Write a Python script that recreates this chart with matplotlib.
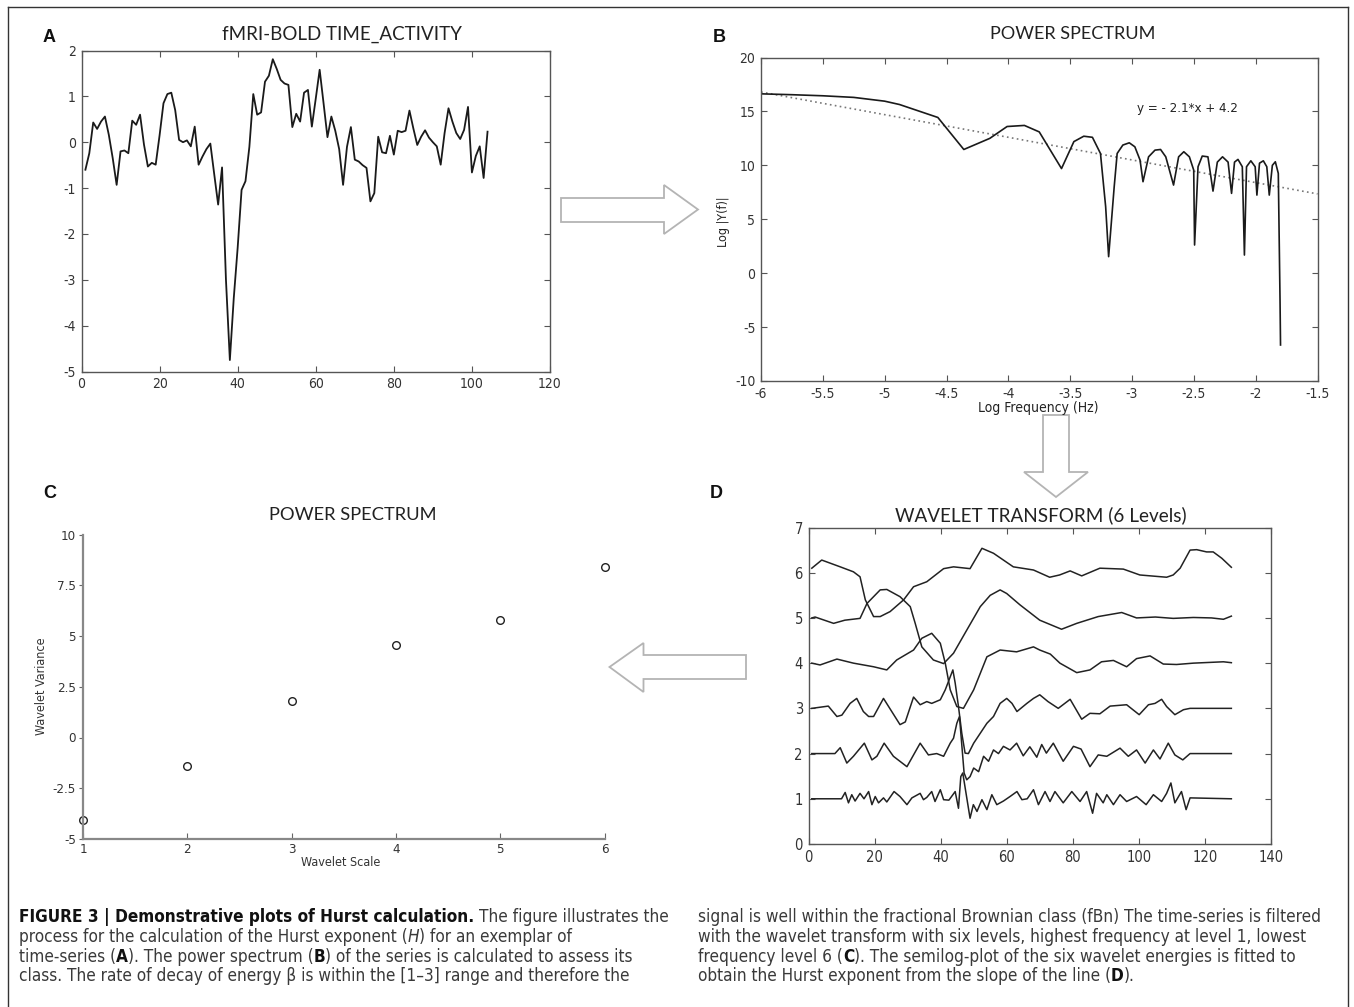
import numpy as np
import matplotlib
matplotlib.use('Agg')
import matplotlib.pyplot as plt
from matplotlib import font_manager as fm
from matplotlib.patches import Polygon
from matplotlib.lines import Line2D

plt.rcParams['axes.unicode_minus'] = False

W, H = 1354, 1007

# ---------------- data ----------------
# Panel A: fMRI-BOLD time activity
a_time = list(range(1, 105))
a_bold = [-0.60, -0.24, 0.43, 0.29, 0.45, 0.56, 0.16, -0.35, -0.93, -0.20,
          -0.18, -0.24, 0.47, 0.38, 0.60, -0.05, -0.53, -0.45, -0.49, 0.15,
          0.85, 1.05, 1.08, 0.70, 0.05, 0.00, 0.04, -0.09, 0.34, -0.49,
          -0.31, -0.15, -0.03, -0.70, -1.36, -0.55, -3.00, -4.75, -3.40, -2.30,
          -1.04, -0.85, -0.10, 1.05, 0.60, 0.65, 1.32, 1.45, 1.81, 1.60,
          1.36, 1.28, 1.25, 0.33, 0.62, 0.45, 1.08, 1.14, 0.34, 0.95,
          1.58, 0.85, 0.11, 0.56, 0.25, -0.15, -0.93, -0.10, 0.33, -0.38,
          -0.42, -0.50, -0.56, -1.29, -1.11, 0.12, -0.22, -0.24, 0.14, -0.27,
          0.25, 0.22, 0.25, 0.69, 0.30, -0.06, 0.12, 0.26, 0.10, 0.00,
          -0.09, -0.49, 0.20, 0.74, 0.45, 0.20, 0.07, 0.27, 0.77, -0.66,
          -0.30, -0.09, -0.78, 0.23]
a_xticks = [0, 20, 40, 60, 80, 100, 120]
a_yticks = [-5, -4, -3, -2, -1, 0, 1, 2]

# Panel B: power spectrum
b_logf = [-6.0, -5.75, -5.5, -5.25, -5.0, -4.88, -4.57, -4.36, -4.15, -4.01,
          -3.87, -3.75, -3.57, -3.47, -3.39, -3.32, -3.255, -3.213, -3.189, -3.144,
          -3.120, -3.074, -3.022, -2.977, -2.935, -2.911, -2.866, -2.814, -2.769, -2.727,
          -2.664, -2.623, -2.581, -2.536, -2.501, -2.494, -2.466, -2.432, -2.386, -2.345,
          -2.310, -2.268, -2.223, -2.195, -2.171, -2.143, -2.108, -2.091, -2.074, -2.039,
          -2.004, -1.990, -1.969, -1.938, -1.910, -1.890, -1.865, -1.841, -1.817, -1.803,
          -1.799]
b_logpow = [16.63, 16.55, 16.45, 16.3, 15.95, 15.64, 14.44, 11.47, 12.5, 13.6,
            13.7, 13.1, 9.7, 12.2, 12.7, 12.6, 11.1, 6.16, 1.53, 8.01,
            11.1, 11.88, 12.09, 11.72, 10.49, 8.48, 10.79, 11.41, 11.47, 10.79,
            8.17, 10.79, 11.26, 10.79, 9.56, 2.61, 9.87, 10.86, 10.79, 7.61,
            10.3, 10.79, 10.3, 7.4, 10.3, 10.55, 9.87, 1.68, 9.87, 10.42,
            9.87, 7.24, 10.2, 10.42, 9.87, 7.24, 10.0, 10.33, 9.25, -2.49,
            -6.66]
fit_slope = -2.1
fit_intercept = 4.2
fit_x = [-6.0, -1.5]
b_xticks = [-6, -5.5, -5, -4.5, -4, -3.5, -3, -2.5, -2, -1.5]
b_xticklabels = ['-6', '-5.5', '-5', '-4.5', '-4', '-3.5', '-3', '-2.5', '-2', '-1.5']
b_yticks = [-10, -5, 0, 5, 10, 15, 20]

# Panel C: wavelet variance per scale
c_scale = [1, 2, 3, 4, 5, 6]
c_variance = [-4.07, -1.39, 1.79, 4.55, 5.81, 8.41]
c_yticks = [-5, -2.5, 0, 2.5, 5, 7.5, 10]
c_yticklabels = ['-5', '-2.5', '0', '2.5', '5', '7.5', '10']

# Panel D: wavelet transform, 6 levels (offset by level)
d1_x = [1, 10, 11.1, 12.1, 13.1, 14.1, 15.6, 16.8, 18.2, 19.2, 20.2, 21.2, 22.7, 23.7, 25.9, 27.7, 29.8, 31.3, 33.8, 34.8,
        35.8, 37.3, 38.3, 39.9, 40.9, 42.5, 44.4, 45.4, 46.1, 46.7, 48.9, 49.9, 51.0, 52.5, 54.0, 55.5, 57.0, 59.0, 61.0, 63.1,
        64.6, 66.2, 68.1, 69.6, 71.6, 73.1, 74.6, 77.1, 79.7, 82.2, 84.2, 86.0, 87.2, 89.2, 90.3, 92.3, 94.3, 96.3, 99.3, 102.2,
        104.4, 106.9, 108.4, 109.7, 110.9, 112.9, 114.3, 115.5, 128]
d1_y = [1.0, 1.0, 1.14, 0.91, 1.09, 0.95, 1.12, 1.0, 1.16, 0.87, 1.05, 0.91, 1.02, 0.93, 1.16, 1.05, 0.87, 1.02, 1.12, 0.98,
        1.03, 1.16, 0.94, 1.20, 0.98, 0.97, 1.16, 0.79, 1.49, 1.57, 0.57, 0.87, 0.72, 0.98, 0.76, 1.09, 0.87, 0.95, 1.05, 1.16,
        0.98, 1.0, 1.2, 0.87, 1.16, 0.94, 1.16, 0.91, 1.16, 0.94, 1.16, 0.68, 1.12, 0.91, 1.09, 0.87, 1.09, 0.94, 1.05, 0.87,
        1.09, 0.94, 1.12, 1.35, 0.91, 1.16, 0.76, 1.02, 1.0]
d2_x = [1, 8, 9.6, 11.6, 13.6, 16.9, 19.2, 20.7, 22.9, 25.7, 29.8, 33.8, 36.3, 38.8, 40.9, 42.9, 43.9, 44.9, 45.7, 47.1,
        47.9, 48.9, 50.0, 51.5, 53.0, 54.5, 56.0, 57.5, 59.0, 61.0, 63.0, 65.0, 67.0, 69.1, 70.6, 72.0, 74.1, 77.1, 80.2, 82.5,
        85.2, 87.7, 90.3, 94.3, 96.8, 99.3, 101.9, 104.4, 106.4, 108.9, 110.9, 113.3, 115.5, 128]
d2_y = [2.0, 2.0, 2.13, 1.79, 1.94, 2.23, 1.86, 1.94, 2.23, 1.94, 1.71, 2.23, 1.97, 2.0, 1.94, 2.23, 2.34, 2.67, 2.82, 1.57,
        1.42, 1.49, 1.68, 1.6, 1.94, 1.83, 2.08, 2.0, 2.16, 2.08, 2.23, 1.95, 2.15, 1.92, 2.2, 2.01, 2.23, 1.83, 2.16, 2.1,
        1.71, 1.97, 1.94, 2.12, 1.94, 2.08, 1.79, 2.08, 1.88, 2.23, 1.97, 1.86, 2.0, 2.0]
d3_x = [1, 6, 8.6, 10.1, 12.6, 14.6, 16.6, 18.2, 19.7, 22.7, 25.2, 27.7, 29.3, 31.8, 33.8, 35.8, 37.3, 39.9, 41.4, 43.7,
        44.4, 45.4, 46.4, 47.4, 48.4, 50.0, 52.0, 54.0, 56.0, 58.0, 60.0, 61.6, 63.1, 66.1, 68.1, 70.0, 72.5, 75.6, 79.2, 82.7,
        85.2, 88.2, 91.3, 96.3, 100.1, 102.9, 104.9, 106.9, 108.4, 110.9, 113.5, 115.5, 128]
d3_y = [3.0, 3.05, 2.82, 2.85, 3.11, 3.22, 2.93, 2.82, 2.82, 3.22, 2.93, 2.64, 2.7, 3.25, 3.08, 3.15, 3.11, 3.19, 3.41, 3.85,
        3.56, 3.04, 2.45, 2.01, 2.0, 2.23, 2.45, 2.67, 2.82, 3.11, 3.22, 3.11, 2.93, 3.11, 3.22, 3.30, 3.15, 3.0, 3.2, 2.76,
        2.89, 2.88, 3.05, 3.08, 2.86, 3.08, 3.11, 3.2, 3.04, 2.86, 2.97, 3.0, 3.0]
d4_x = [1, 3.5, 8.6, 13.6, 19.7, 23.7, 26.7, 31.8, 34.3, 37.3, 39.9, 41.4, 42.9, 44.9, 46.9, 50.0, 54.0, 58.0, 63.0, 68.1,
        70.0, 73.2, 76.1, 81.2, 85.2, 88.7, 92.3, 96.3, 99.3, 103.4, 107.4, 111.4, 116.5, 125.6, 128]
d4_y = [4.0, 3.96, 4.09, 4.0, 3.92, 3.85, 4.07, 4.29, 4.55, 4.66, 4.44, 4.0, 3.41, 3.04, 3.0, 3.41, 4.14, 4.29, 4.25, 4.36,
        4.29, 4.2, 4.0, 3.79, 3.85, 4.03, 4.06, 3.92, 4.1, 4.16, 3.98, 3.97, 4.0, 4.03, 4.01]
d5_x = [1, 2, 7.6, 11, 15.6, 17.7, 21.7, 23.7, 27.7, 30.8, 32.3, 34.3, 37.8, 40.9, 43.9, 47.9, 52.0, 55, 58.0, 60.0,
        64.0, 70.0, 76.6, 81.2, 87.7, 94.8, 99.3, 105, 110.4, 116.5, 122, 125.6, 128]
d5_y = [5.0, 5.02, 4.88, 4.95, 4.99, 5.32, 5.62, 5.63, 5.47, 5.25, 4.88, 4.36, 4.07, 3.99, 4.22, 4.73, 5.25, 5.5, 5.62, 5.54,
        5.29, 4.95, 4.75, 4.88, 5.03, 5.12, 5.0, 5.02, 4.99, 5.01, 5.0, 4.97, 5.04]
d6_x = [1, 4, 9.6, 13.6, 15.6, 17.2, 19.7, 21.7, 24.7, 28.8, 31.8, 35.8, 40.9, 43.9, 48.9, 52.5, 56.0, 62.0, 68.1, 73.0,
        76.0, 79.2, 82.7, 88.2, 95.3, 100.3, 108.4, 110.4, 112.5, 115.5, 117.5, 120.5, 122.5, 125.1, 128]
d6_y = [6.1, 6.28, 6.13, 6.02, 5.91, 5.4, 5.03, 5.03, 5.14, 5.4, 5.69, 5.8, 6.09, 6.13, 6.09, 6.54, 6.43, 6.13, 6.06, 5.9,
        5.95, 6.04, 5.93, 6.1, 6.08, 5.95, 5.9, 5.95, 6.1, 6.5, 6.51, 6.46, 6.46, 6.32, 6.12]
d_xticks = [0, 20, 40, 60, 80, 100, 120, 140]
d_yticks = [0, 1, 2, 3, 4, 5, 6, 7]

# ---------------- fonts ----------------
_names = {f.name for f in fm.fontManager.ttflist}
if 'Liberation Sans Narrow' in _names:
    NARROW = dict(family='Liberation Sans Narrow')
else:
    NARROW = dict(family='DejaVu Sans', stretch='condensed')
SANS = dict(family='Liberation Sans' if 'Liberation Sans' in _names else 'DejaVu Sans')
TITLE = dict(family='Lato' if 'Lato' in _names else 'DejaVu Sans')

fig = plt.figure(figsize=(W / 100, H / 100), dpi=100)
renderer = fig.canvas.get_renderer()


def fx(x):
    return x / W


def fy(y):
    return 1 - y / H


def px_axes(l, t, r, b):
    return fig.add_axes([l / W, 1 - b / H, (r - l) / W, (b - t) / H])


def matlab_box(ax, font, size):
    for s in ax.spines.values():
        s.set_color('#555555')
        s.set_linewidth(1.0)
    ax.tick_params(direction='in', length=4, width=0.8, top=True, right=True,
                   colors='#555555', labelcolor='#333333', pad=4)
    for lab in ax.get_xticklabels() + ax.get_yticklabels():
        lab.set_fontsize(size)
        lab.set(**font)


def fit_text(xc, yc, s, target_w, font, color='#222222'):
    t = fig.text(fx(xc), fy(yc), s, ha='center', va='center', fontsize=12, color=color, **font)
    w = t.get_window_extent(renderer).width
    t.set_fontsize(12 * target_w / w)
    return t


def letter(x, y, s):
    fig.text(fx(x), fy(y), s, ha='center', va='center', fontsize=13, fontweight='bold',
             color='#111111', **SANS)


# ---------------- outer frame ----------------
for (x0, y0, x1, y1) in [(8, 7, 1348, 7), (8, 7, 8, 1007), (1348, 7, 1348, 1007)]:
    fig.add_artist(Line2D([fx(x0), fx(x1)], [fy(y0), fy(y1)], transform=fig.transFigure,
                          color='#333333', lw=1.0))

# ---------------- Panel A ----------------
axA = px_axes(81.5, 50.5, 550, 371.5)
axA.plot(a_time, a_bold, color='#1a1a1a', lw=1.3)
axA.set_xlim(0, 120)
axA.set_ylim(-5, 2)
axA.set_xticks(a_xticks)
axA.set_yticks(a_yticks)
axA.set_xticklabels([str(v) for v in a_xticks])
axA.set_yticklabels([str(v) for v in a_yticks])
matlab_box(axA, NARROW, 10)
fit_text(342, 34, 'fMRI-BOLD TIME_ACTIVITY', 238, TITLE)
letter(49, 38, 'A')

# ---------------- Panel B ----------------
axB = px_axes(761, 57.5, 1317.5, 381)
axB.plot(fit_x, [fit_slope * v + fit_intercept for v in fit_x], color='#777777', lw=1.2,
         linestyle=(0, (1, 2)))
axB.plot(b_logf, b_logpow, color='#1a1a1a', lw=1.2)
axB.set_xlim(-6, -1.5)
axB.set_ylim(-10, 20)
axB.set_xticks(b_xticks)
axB.set_xticklabels(b_xticklabels)
axB.set_yticks(b_yticks)
axB.set_yticklabels([str(v) for v in b_yticks])
matlab_box(axB, NARROW, 10)
axB.text(-2.55, 15.3, 'y = - 2.1*x + 4.2', ha='center', va='center', fontsize=9.5,
         color='#222222', **NARROW)
fig.text(fx(723), fy(222), 'Log |Y(f)|', rotation=90, ha='center', va='center', fontsize=9,
         color='#222222', **NARROW)
fig.text(fx(1038), fy(408), 'Log Frequency (Hz)', ha='center', va='center', fontsize=10,
         color='#222222', **NARROW)
fit_text(1073, 34, 'POWER SPECTRUM', 166, TITLE)
letter(719, 38, 'B')

# ---------------- Panel C ----------------
axC = px_axes(83, 534.5, 604.5, 839)
axC.plot(c_scale, c_variance, linestyle='none', marker='o', markersize=5.5,
         markerfacecolor='white', markeredgecolor='#222222', markeredgewidth=1.0, clip_on=False)
axC.set_xlim(1, 6)
axC.set_ylim(-5, 10)
axC.set_xticks(c_scale)
axC.set_xticklabels([str(v) for v in c_scale])
axC.set_yticks(c_yticks)
axC.set_yticklabels(c_yticklabels)
for side in ('top', 'right'):
    axC.spines[side].set_visible(False)
for side in ('left', 'bottom'):
    axC.spines[side].set_color('#888888')
    axC.spines[side].set_linewidth(1.6)
axC.tick_params(axis='y', direction='out', length=3, width=0.8, colors='#666666',
                labelcolor='#333333', pad=2)
axC.tick_params(axis='x', direction='in', length=4, width=0.8, colors='#666666',
                labelcolor='#333333', pad=3)
for lab in axC.get_xticklabels() + axC.get_yticklabels():
    lab.set_fontsize(9.5)
    lab.set(**NARROW)
fig.text(fx(41.5), fy(686), 'Wavelet Variance', rotation=90, ha='center', va='center',
         fontsize=9, color='#333333', **NARROW)
fig.text(fx(341), fy(863), 'Wavelet Scale', ha='center', va='center', fontsize=9,
         color='#333333', **NARROW)
fit_text(353, 515, 'POWER SPECTRUM', 168, TITLE)
letter(50, 493, 'C')

# ---------------- Panel D ----------------
axD = px_axes(808.5, 527.5, 1271, 844)
for xs, ys in [(d6_x, d6_y), (d5_x, d5_y), (d4_x, d4_y), (d3_x, d3_y), (d2_x, d2_y), (d1_x, d1_y)]:
    axD.plot(xs, ys, color='#222222', lw=1.1)
axD.set_xlim(0, 140)
axD.set_ylim(0, 7)
axD.set_xticks(d_xticks)
axD.set_yticks(d_yticks)
axD.set_xticklabels([str(v) for v in d_xticks])
axD.set_yticklabels([str(v) for v in d_yticks])
matlab_box(axD, NARROW, 10.5)
fit_text(1041, 515, 'WAVELET TRANSFORM (6 Levels)', 290, TITLE)
letter(716, 493, 'D')

# ---------------- arrows ----------------
def hollow(points):
    pts = [(fx(x), fy(y)) for x, y in points]
    fig.add_artist(Polygon(pts, closed=True, transform=fig.transFigure, facecolor='white',
                           edgecolor='#b4b4b4', lw=1.3))

hollow([(561, 198), (664, 198), (664, 185), (698, 209.5), (664, 234), (664, 222), (561, 222)])
hollow([(1043, 415), (1069, 415), (1069, 472), (1088, 472), (1056, 497), (1024, 472), (1043, 472)])
hollow([(746, 655), (643.5, 655), (643.5, 643), (609.5, 667), (643.5, 692), (643.5, 679), (746, 679)])

# ---------------- caption ----------------
CAP = NARROW
cap_size = 12.5
probe = fig.text(0, 0, 'x x', fontsize=cap_size, **CAP)
probe2 = fig.text(0, 0, 'xx', fontsize=cap_size, **CAP)
SPACE = probe.get_window_extent(renderer).width - probe2.get_window_extent(renderer).width
probe.remove()
probe2.remove()


def draw_runs(x, y, runs, size):
    for item in runs:
        if item == ' ':
            x += SPACE
            continue
        text, weight, style = item
        color = '#111111' if weight == 'bold' else '#3a3a3a'
        t = fig.text(fx(x), fy(y), text, fontsize=size, fontweight=weight, fontstyle=style,
                     ha='left', va='baseline', color=color, **CAP)
        x += t.get_window_extent(renderer).width
    return x

N, B, I = 'normal', 'bold', 'italic'
left_lines = [
    [('FIGURE 3 | Demonstrative plots of Hurst calculation.', B, N), ' ',
     ('The figure illustrates the', N, N)],
    [('process for the calculation of the Hurst exponent (', N, N), ('H', N, I),
     (') for an exemplar of', N, N)],
    [('time-series (', N, N), ('A', B, N), ('). The power spectrum (', N, N), ('B', B, N),
     (') of the series is calculated to assess its', N, N)],
    [('class. The rate of decay of energy \u03b2 is within the [1\u20133] range and therefore the', N, N)],
]
right_lines = [
    [('signal is well within the fractional Brownian class (fBn) The time-series is filtered', N, N)],
    [('with the wavelet transform with six levels, highest frequency at level 1, lowest', N, N)],
    [('frequency level 6 (', N, N), ('C', B, N),
     ('). The semilog-plot of the six wavelet energies is fitted to', N, N)],
    [('obtain the Hurst exponent from the slope of the line (', N, N), ('D', B, N), (').', N, N)],
]

# fit caption size so that the first right-hand line spans its measured width
tst = fig.text(0, 0, right_lines[0][0][0], fontsize=cap_size, **CAP)
wr = tst.get_window_extent(renderer).width
tst.remove()
cap_size = cap_size * 623 / wr
probe = fig.text(0, 0, 'x x', fontsize=cap_size, **CAP)
probe2 = fig.text(0, 0, 'xx', fontsize=cap_size, **CAP)
SPACE = probe.get_window_extent(renderer).width - probe2.get_window_extent(renderer).width
probe.remove()
probe2.remove()

baselines = [922, 942, 962, 981]
for yb, runs in zip(baselines, left_lines):
    draw_runs(19, yb, runs, cap_size)
for yb, runs in zip(baselines, right_lines):
    draw_runs(698, yb, runs, cap_size)

fig.savefig('out.png', dpi=100, facecolor='white')
